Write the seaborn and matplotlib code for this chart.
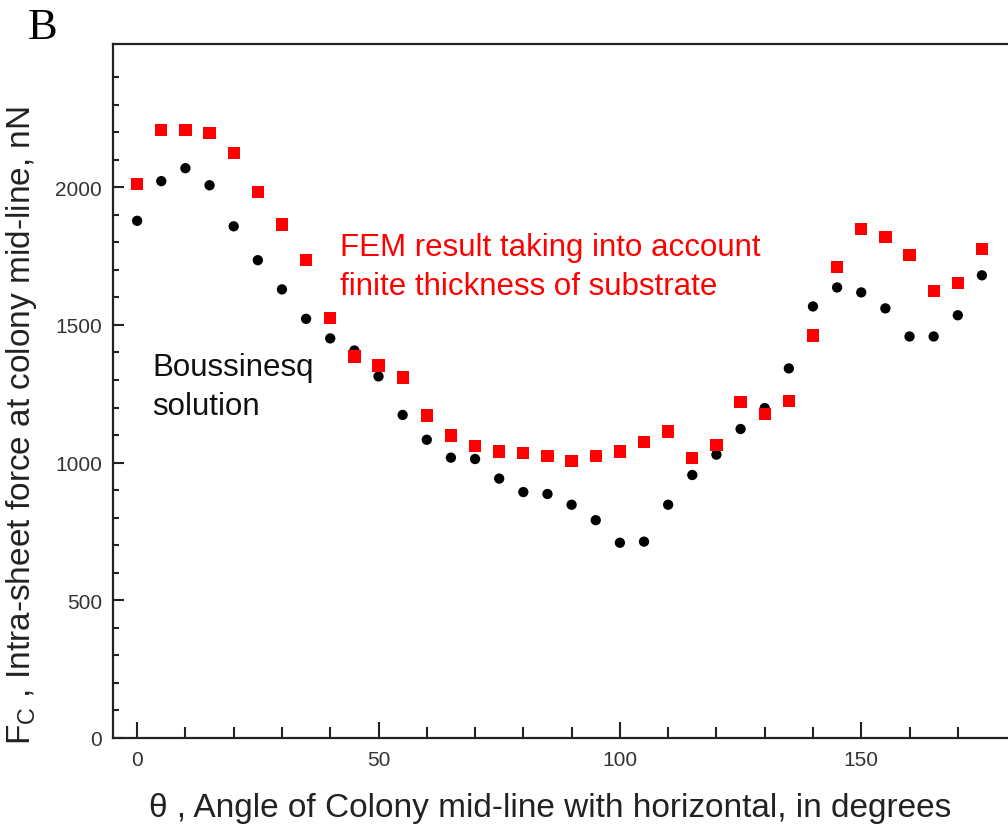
import numpy as np
import pandas as pd
import matplotlib
matplotlib.use("Agg")
import matplotlib.pyplot as plt
import seaborn as sns
from matplotlib.ticker import FixedLocator

# ---- data ----
angles = [0, 5, 10, 15, 20, 25, 30, 35, 40, 45, 50, 55, 60, 65, 70, 75, 80, 85,
          90, 95, 100, 105, 110, 115, 120, 125, 130, 135, 140, 145, 150, 155, 160, 165, 170, 175]
boussinesq = [1878, 2022, 2069, 2007, 1858, 1735, 1629, 1522, 1451, 1407, 1313, 1173, 1083, 1018,
              1013, 942, 893, 886, 847, 791, 709, 713, 847, 955, 1029, 1122, 1198, 1342,
              1567, 1636, 1618, 1560, 1458, 1458, 1535, 1680]
fem = [2011, 2207, 2207, 2196, 2124, 1982, 1865, 1735, 1524, 1385, 1353, 1309, 1171, 1098,
       1060, 1040, 1035, 1024, 1007, 1025, 1040, 1076, 1113, 1017, 1065, 1220, 1177, 1225,
       1462, 1709, 1847, 1818, 1753, 1622, 1651, 1775]
series_names = ["Boussinesq", "FEM"]
x_major = [0, 50, 100, 150]
y_major = [0, 500, 1000, 1500, 2000]

df = pd.DataFrame({
    "angle": angles * 2,
    "force": boussinesq + fem,
    "series": [series_names[0]] * len(angles) + [series_names[1]] * len(angles),
})

sns.set_style("ticks")
plt.rcParams["font.family"] = ["Liberation Sans", "DejaVu Sans"]
plt.rcParams["mathtext.fontset"] = "custom"
plt.rcParams["mathtext.rm"] = "Liberation Sans"

fig = plt.figure(figsize=(10.08, 8.29), dpi=100)
ax = fig.add_axes([113 / 1008, 90 / 829, 895 / 1008, 694 / 829])

sns.scatterplot(data=df, x="angle", y="force", hue="series", style="series",
                palette={"Boussinesq": "black", "FEM": "#ff0000"},
                markers={"Boussinesq": "o", "FEM": "s"},
                s=60, linewidth=0, legend=False, ax=ax)
ax.collections[0].set_sizes([55 if s == "Boussinesq" else 78 for s in df["series"]])

ax.set_xlim(-5, 180.4)
ax.set_ylim(0, 2520)

ax.xaxis.set_major_locator(FixedLocator(x_major))
ax.xaxis.set_minor_locator(FixedLocator(list(range(10, 180, 10))))
ax.yaxis.set_major_locator(FixedLocator(y_major))
ax.yaxis.set_minor_locator(FixedLocator([v for v in range(100, 2500, 100) if v % 500]))

ax.tick_params(axis="both", which="both", direction="in", color="#222222",
               labelsize=15, labelcolor="#333333", width=1.5)
ax.tick_params(axis="x", which="major", length=11.5, pad=9)
ax.tick_params(axis="x", which="minor", length=8)
ax.tick_params(axis="y", which="major", length=8, pad=8)
ax.tick_params(axis="y", which="minor", length=4.5)

for side in ["left", "bottom", "top"]:
    ax.spines[side].set_linewidth(1.6)
    ax.spines[side].set_color("#222222")
ax.spines["right"].set_visible(False)

ax.set_xlabel("θ , Angle of Colony mid-line with horizontal, in degrees",
              fontsize=24, color="#222222")
ax.xaxis.set_label_coords(0.488, -0.078)
ax.set_ylabel(r"F$_\mathregular{C}$ , Intra-sheet force at colony mid-line, nN",
              fontsize=24, color="#222222")
ax.yaxis.set_label_coords(-0.083, 0.452)

ax.text(42.1, 1712, "FEM result taking into account\nfinite thickness of substrate",
        color="#ff0000", fontsize=22.5, ha="left", va="center", linespacing=1.4)
ax.text(3.1, 1275, "Boussinesq\nsolution", color="#111111", fontsize=22.5,
        ha="left", va="center", linespacing=1.4)

fig.text(28 / 1008, 1 - 28 / 829, "B", family=["Liberation Serif"], fontsize=32,
         ha="left", va="center", color="black")

fig.savefig("out.png", dpi=100)
